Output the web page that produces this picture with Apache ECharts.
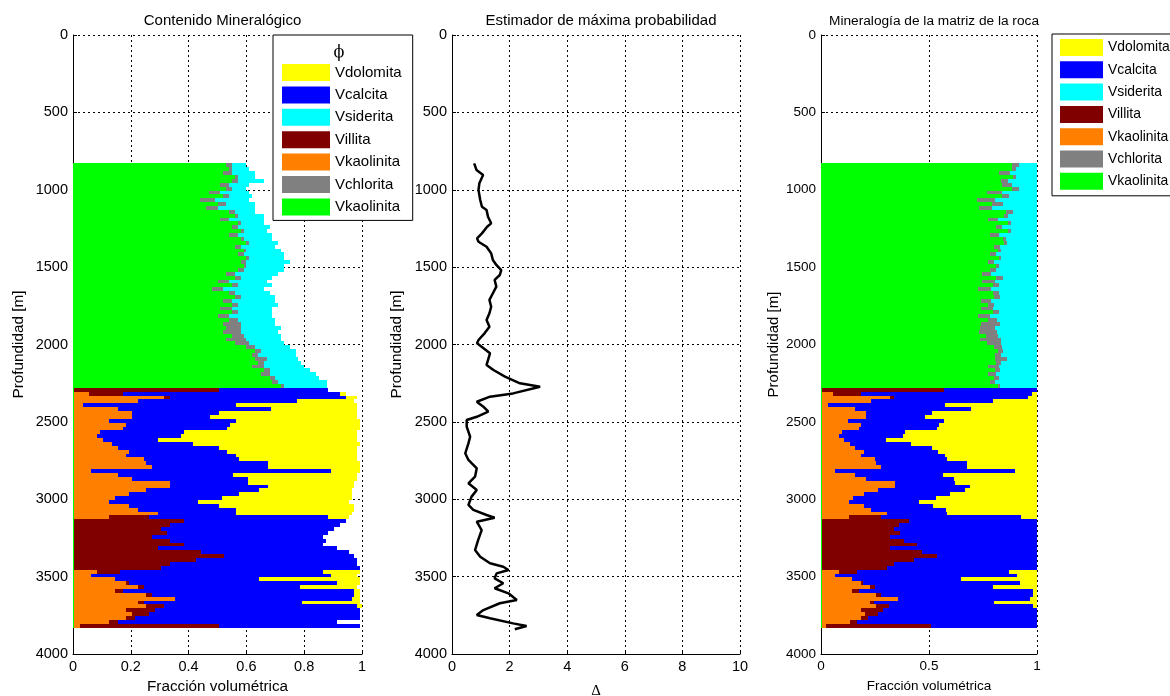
<!DOCTYPE html>
<html>
<head>
<meta charset="utf-8">
<script src="https://cdn.jsdelivr.net/npm/echarts@6/dist/echarts.min.js"></script>
<style>
html,body{margin:0;padding:0;background:#fff;}
#chart{width:1170px;height:696px;}
</style>
</head>
<body>
<div id="chart"></div>
<script>
// ---------------- DATA ----------------
// top of each 25 m sampling interval (m)
const DEPTH_TOP = [
  830,855,880,905,930,955,980,1005,1030,1055,
  1080,1105,1130,1155,1180,1205,1230,1255,1280,1305,
  1330,1355,1380,1405,1430,1455,1480,1505,1530,1555,
  1580,1605,1630,1655,1680,1705,1730,1755,1780,1805,
  1830,1855,1880,1905,1930,1955,1980,2005,2030,2055,
  2080,2105,2130,2155,2180,2205,2230,2255,2280,2305,
  2330,2355,2380,2405,2430,2455,2480,2505,2530,2555,
  2580,2605,2630,2655,2680,2705,2730,2755,2780,2805,
  2830,2855,2880,2905,2930,2955,2980,3005,3030,3055,
  3080,3105,3130,3155,3180,3205,3230,3255,3280,3305,
  3330,3355,3380,3405,3430,3455,3480,3505,3530,3555,
  3580,3605,3630,3655,3680,3705,3730,3755,3780,3805
];
const LAYER_THICKNESS = 25;

// volumetric fractions (of total volume) per interval
const vKaolinitaVerde = [
  .53,.54,.52,.56,.55,.51,.53,.47,.52,.44,
  .50,.46,.54,.56,.51,.57,.55,.58,.54,.58,
  .60,.56,.59,.57,.60,.58,.59,.57,.53,.56,
  .50,.55,.48,.54,.56,.52,.55,.51,.55,.50,
  .54,.52,.53,.52,.55,.53,.56,.60,.63,.62,
  .63,.64,.62,.66,.65,.68,.69,.72,.004,.004,
  .004,.004,.004,.004,.004,.004,.004,.004,.004,.004,
  .004,.004,.004,.004,.004,.004,.004,.004,.004,.004,
  .004,.004,.004,.004,.004,.004,.004,.004,.004,.004,
  .004,.004,.004,.004,.004,.004,.004,.004,.004,.004,
  .004,.004,.004,.004,.004,.004,.004,.004,.004,.004,
  .004,.004,.004,.004,.004,.004,.004,.004,.004,.004
];
const vChlorita = [
  .02,.01,.03,.01,.02,.03,.02,.04,.02,.05,
  .03,.04,.02,.01,.03,.01,.02,.01,.03,.01,
  .01,.02,.01,.02,.01,.02,.01,.02,.03,.02,
  .04,.02,.04,.02,.02,.03,.02,.04,.02,.04,
  .03,.06,.05,.06,.04,.07,.05,.03,.02,.02,
  .04,.02,.04,.02,.03,.02,.02,.01,0,0,
  0,0,0,0,0,0,0,0,0,0,
  0,0,0,0,0,0,0,0,0,0,
  0,0,0,0,0,0,0,0,0,0,
  0,0,0,0,0,0,0,0,0,0,
  0,0,0,0,0,0,0,0,0,0,
  0,0,0,0,0,0,0,0,0,0
];
const vKaolinitaNaranja = [
  0,0,0,0,0,0,0,0,0,0,
  0,0,0,0,0,0,0,0,0,0,
  0,0,0,0,0,0,0,0,0,0,
  0,0,0,0,0,0,0,0,0,0,
  0,0,0,0,0,0,0,0,0,0,
  0,0,0,0,0,0,0,0,0,.05,
  .31,.22,.03,.15,.20,.20,.12,.18,.17,.09,
  .08,.10,.13,.15,.19,.18,.24,.25,.27,.06,
  .15,.20,.33,.33,.25,.19,.14,.12,.19,.22,
  .29,.12,0,0,0,0,0,0,0,0,
  0,0,0,0,0,.08,.06,.14,.18,.22,
  .14,.25,.35,.22,.25,.18,.20,.18,.12,.02
];
const vIllita = [
  0,0,0,0,0,0,0,0,0,0,
  0,0,0,0,0,0,0,0,0,0,
  0,0,0,0,0,0,0,0,0,0,
  0,0,0,0,0,0,0,0,0,0,
  0,0,0,0,0,0,0,0,0,0,
  0,0,0,0,0,0,0,0,.50,.12,
  .02,0,0,0,0,0,0,0,0,0,
  0,0,0,0,0,0,0,0,0,0,
  0,0,0,0,0,0,0,0,0,0,
  0,.14,.38,.33,.30,.32,.27,.33,.38,.29,
  .44,.52,.42,.33,.30,.08,0,0,.01,.02,
  .03,.02,0,.02,.06,.10,.06,.03,.03,.48
];
const vSiderita = [
  .05,.06,.08,.06,.09,.07,.05,.10,.08,.12,
  .10,.13,.07,.09,.12,.08,.11,.08,.12,.10,
  .10,.12,.12,.14,.12,.15,.13,.14,.15,.11,
  .13,.12,.14,.12,.12,.15,.14,.14,.12,.15,
  .13,.12,.14,.13,.13,.12,.12,.12,.12,.13,
  .11,.13,.14,.14,.16,.15,.17,.15,0,0,
  0,0,0,0,0,0,0,0,0,0,
  0,0,0,0,0,0,0,0,0,0,
  0,0,0,0,0,0,0,0,0,0,
  0,0,0,0,0,0,0,0,0,0,
  0,0,0,0,0,0,0,0,0,0,
  0,0,0,0,0,0,0,0,0,0
];
const vCalcita = [
  0,0,0,0,0,0,0,0,0,0,
  0,0,0,0,0,0,0,0,0,0,
  0,0,0,0,0,0,0,0,0,0,
  0,0,0,0,0,0,0,0,0,0,
  0,0,0,0,0,0,0,0,0,0,
  0,0,0,0,0,0,0,0,.38,.75,
  .61,.55,.53,.53,.30,.27,.44,.36,.36,.29,
  .29,.19,.28,.35,.34,.38,.33,.42,.40,.83,
  .40,.40,.27,.34,.39,.38,.37,.31,.31,.34,
  .27,.62,.56,.59,.60,.56,.59,.54,.48,.62,
  .51,.45,.56,.65,.69,.70,.83,.50,.72,.54,
  .80,.70,.61,.55,.67,.71,.73,.78,.76,.49
];
const vDolomita = [
  0,0,0,0,0,0,0,0,0,0,
  0,0,0,0,0,0,0,0,0,0,
  0,0,0,0,0,0,0,0,0,0,
  0,0,0,0,0,0,0,0,0,0,
  0,0,0,0,0,0,0,0,0,0,
  0,0,0,0,0,0,0,0,0,.02,
  .04,.20,.42,.30,.48,.51,.43,.45,.46,.60,
  .61,.69,.58,.48,.45,.42,.41,.32,.32,.10,
  .43,.38,.37,.30,.32,.39,.45,.52,.47,.41,
  .40,.07,0,0,0,0,0,0,0,0,
  0,0,0,0,0,.13,.09,.35,.08,.20,
  .02,.02,.03,.20,.02,0,0,0,0,0
];

// maximum-likelihood estimator (Delta) vs depth
const DELTA_DEPTH = [
  829,872,905,958,1002,1066,1110,1131,1174,1217,1239,1282,1314,1336,1368,1411,1454,1486,1519,1551,
  1583,1626,1669,1712,1756,1798,1842,1885,1928,1971,1992,2003,2057,2132,2165,2208,2251,2273,2316,2337,
  2370,2402,2434,2467,2488,2531,2596,2639,2703,2746,2800,2854,2897,2940,2983,3037,3069,3102,3119,3145,
  3199,3263,3328,3371,3414,3436,3457,3479,3511,3543,3575,3608,3651,3672,3716,3748,3769,3802,3819,3840
];
const DELTA = [
  0.77,0.85,1.08,0.95,0.92,0.98,1.04,1.20,1.25,1.36,1.22,1.04,0.87,0.92,1.20,1.36,1.42,1.54,1.71,1.66,
  1.48,1.54,1.42,1.30,1.36,1.30,1.20,1.30,1.13,0.92,0.87,0.91,1.32,1.20,1.44,1.84,2.36,3.06,2.12,1.32,
  0.86,1.09,1.26,0.86,0.51,0.51,0.63,0.57,0.46,0.57,0.86,0.80,0.57,0.86,0.68,0.57,0.74,1.20,1.48,0.86,
  1.03,0.91,0.80,0.98,1.32,1.78,1.96,1.55,1.48,1.78,1.48,1.96,2.25,1.66,1.09,0.86,1.32,2.12,2.59,2.18
];

// tick values
const Y_TICKS = [0,500,1000,1500,2000,2500,3000,3500,4000];
const X1_TICKS = [0,0.2,0.4,0.6,0.8,1];
const X2_TICKS = [0,2,4,6,8,10];
const X3_TICKS = [0,0.5,1];

// minerals in stacking order (left to right)
const MINERALS = [
  {name:'Vkaolinita (verde)',   color:'#00FF00', values:vKaolinitaVerde},
  {name:'Vchlorita',            color:'#808080', values:vChlorita},
  {name:'Vkaolinita (naranja)', color:'#FF8000', values:vKaolinitaNaranja},
  {name:'Villita',              color:'#800000', values:vIllita},
  {name:'Vsiderita',            color:'#00FFFF', values:vSiderita},
  {name:'Vcalcita',             color:'#0000FF', values:vCalcita},
  {name:'Vdolomita',            color:'#FFFF00', values:vDolomita}
];
const LEGEND_ORDER = ['Vdolomita','Vcalcita','Vsiderita','Villita','Vkaolinita (naranja)','Vchlorita','Vkaolinita (verde)'];

// ---------------- CHART ----------------
const FONT = '"Liberation Sans", Arial, Helvetica, sans-serif';

function buildLayers(normalize){
  const out = MINERALS.map(() => []);
  for (let i = 0; i < DEPTH_TOP.length; i++){
    let total = 0;
    MINERALS.forEach(m => { total += m.values[i]; });
    const s = normalize ? 1 / total : 1;
    let acc = 0;
    MINERALS.forEach((m, k) => {
      const v = m.values[i] * s;
      out[k].push([DEPTH_TOP[i], DEPTH_TOP[i] + LAYER_THICKNESS, acc, acc + v]);
      acc += v;
    });
  }
  return out;
}

function renderLayer(params, api){
  const top = api.value(0), bot = api.value(1), lo = api.value(2), hi = api.value(3);
  if (!(hi > lo)) return null;
  const a = api.coord([lo, top]);
  const b = api.coord([hi, bot]);
  const x0 = Math.round(a[0]), x1 = Math.round(b[0]);
  const y0 = Math.round(a[1]), y1 = Math.round(b[1]);
  return {
    type: 'rect',
    shape: {x: x0, y: y0, width: Math.max(x1 - x0, 1), height: y1 - y0},
    style: {fill: api.visual('color')}
  };
}

const plainNumber = v => String(v);

function yAxisCfg(gridIndex, labelSize, nameSize, nameGap){
  return {
    gridIndex, type:'value', inverse:true,
    min:Y_TICKS[0], max:Y_TICKS[Y_TICKS.length-1], interval:Y_TICKS[1]-Y_TICKS[0],
    name:'Profundidad [m]', nameLocation:'middle', nameGap, nameRotate:90,
    nameTextStyle:{fontFamily:FONT, fontSize:nameSize, color:'#000'},
    axisLine:{show:true, lineStyle:{color:'#000', width:1}},
    axisTick:{show:true, inside:true, length:4, lineStyle:{color:'#000'}},
    axisLabel:{fontFamily:FONT, fontSize:labelSize, color:'#000', margin:5, formatter:plainNumber},
    splitLine:{show:true, lineStyle:{color:'#000', width:1, type:[2,3]}}
  };
}
function xAxisCfg(gridIndex, ticks, name, labelSize, nameSize, nameGap, nameFont){
  return {
    gridIndex, type:'value',
    min:ticks[0], max:ticks[ticks.length-1], interval:ticks[1]-ticks[0],
    name, nameLocation:'middle', nameGap,
    nameTextStyle:{fontFamily:nameFont || FONT, fontSize:nameSize, color:'#000'},
    axisLine:{show:true, onZero:false, lineStyle:{color:'#000', width:1}},
    axisTick:{show:true, inside:true, length:4, lineStyle:{color:'#000'}},
    axisLabel:{fontFamily:FONT, fontSize:labelSize, color:'#000', margin:5},
    splitLine:{show:true, lineStyle:{color:'#000', width:1, type:[2,3]}}
  };
}

const layers1 = buildLayers(false);
const layers3 = buildLayers(true);

const series = [];
MINERALS.forEach((m, k) => {
  series.push({
    type:'custom', name:m.name, xAxisIndex:0, yAxisIndex:0,
    itemStyle:{color:m.color}, renderItem:renderLayer,
    encode:{x:[2,3], y:[0,1]}, data:layers1[k], clip:true, silent:true
  });
});
MINERALS.forEach((m, k) => {
  series.push({
    type:'custom', name:m.name, xAxisIndex:2, yAxisIndex:2,
    itemStyle:{color:m.color}, renderItem:renderLayer,
    encode:{x:[2,3], y:[0,1]}, data:layers3[k], clip:true, silent:true
  });
});
series.push({
  type:'line', name:'Delta', xAxisIndex:1, yAxisIndex:1,
  data: DELTA.map((v, i) => [v, DELTA_DEPTH[i]]),
  showSymbol:false, symbol:'none',
  lineStyle:{color:'#000', width:2.5}, z:3
});

const legendFormatter = name => name.replace(/ \(.*\)$/, '');

const option = {
  animation:false,
  backgroundColor:'#fff',
  title:[
    {text:'Contenido Mineralógico', left:217.5, top:8, textAlign:'center',
     textStyle:{fontFamily:FONT, fontSize:15, fontWeight:'normal', color:'#000'}},
    {text:'Estimador de máxima probabilidad', left:596, top:8, textAlign:'center',
     textStyle:{fontFamily:FONT, fontSize:15, fontWeight:'normal', color:'#000'}},
    {text:'Mineralogía de la matriz de la roca', left:929, top:9, textAlign:'center',
     textStyle:{fontFamily:FONT, fontSize:13.7, fontWeight:'normal', color:'#000'}}
  ],
  grid:[
    {left:73, top:35, width:289, height:619, containLabel:false, outerBoundsMode:'none'},
    {left:452, top:35, width:288, height:619, containLabel:false, outerBoundsMode:'none'},
    {left:821, top:35, width:216, height:619, containLabel:false, outerBoundsMode:'none'}
  ],
  xAxis:[
    xAxisCfg(0, X1_TICKS, 'Fracción volumétrica', 14.5, 15.3, 25),
    xAxisCfg(1, X2_TICKS, 'Δ', 14.5, 15, 30, '"Liberation Serif", "DejaVu Serif", serif'),
    xAxisCfg(2, X3_TICKS, 'Fracción volumétrica', 13.5, 13.5, 25)
  ],
  yAxis:[
    yAxisCfg(0, 14.5, 15.3, 47),
    yAxisCfg(1, 14.5, 15.3, 48),
    yAxisCfg(2, 13.5, 15, 40)
  ],
  legend:[
    {orient:'vertical', left:273, top:35, padding:[29,11,5,9],
     itemWidth:48, itemHeight:17, itemGap:5.4, icon:'rect',
     backgroundColor:'#fff', borderColor:'#000', borderWidth:1, borderRadius:0,
     selectedMode:false, formatter:legendFormatter,
     textStyle:{fontFamily:FONT, fontSize:15, color:'#000'},
     data:LEGEND_ORDER, z:10},
    {orient:'vertical', left:1052, top:34, padding:[5,1,6,8],
     itemWidth:43, itemHeight:17, itemGap:5.3, icon:'rect',
     backgroundColor:'#fff', borderColor:'#000', borderWidth:1, borderRadius:0,
     selectedMode:false, formatter:legendFormatter,
     textStyle:{fontFamily:FONT, fontSize:13.9, color:'#000'},
     data:LEGEND_ORDER, z:10}
  ],
  graphic:[
    {type:'text', x:339, y:53, z:100, zlevel:0,
     style:{text:'ϕ', fill:'#000', font:'16px "DejaVu Serif", serif',
            textAlign:'center', textVerticalAlign:'middle', align:'center', verticalAlign:'middle'}}
  ],
  series
};

const chart = echarts.init(document.getElementById('chart'), null, {renderer:'canvas'});
chart.setOption(option);
</script>
</body>
</html>
